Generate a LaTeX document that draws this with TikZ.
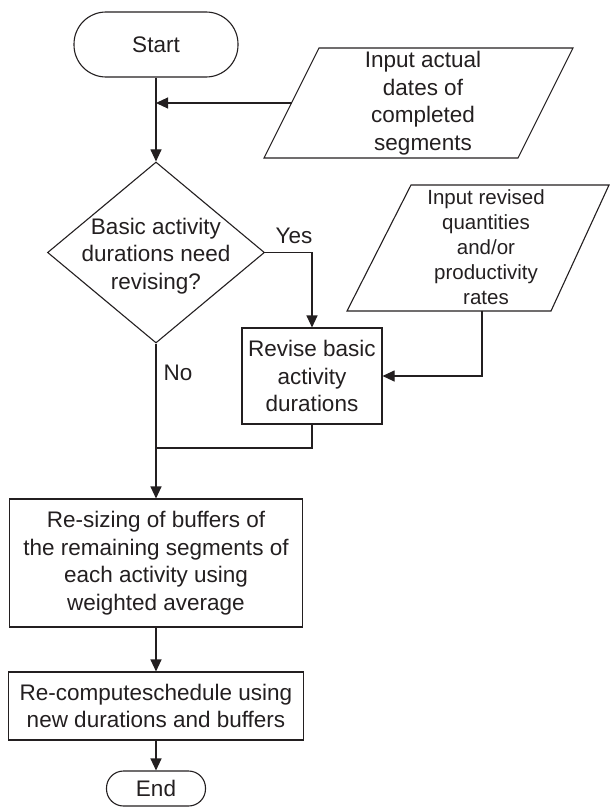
\documentclass[tikz,border=0pt]{standalone}
\usepackage{fontspec}
\setmainfont{Liberation Sans}
\usetikzlibrary{arrows.meta,shapes.geometric,calc}
\definecolor{ink}{HTML}{231F20}
\begin{document}
\begin{tikzpicture}[x=1pt,y=-1pt,
  line/.style={draw=ink,line width=1.1pt},
  arr/.style={line,-{Triangle[length=12pt,width=11pt]}},
  txt/.style={text=ink,align=center,inner sep=0pt,
    font=\fontsize{22.5}{27.5}\selectfont},
  smalltxt/.style={txt,font=\fontsize{20.5}{25}\selectfont},
  terminal/.style={line,rectangle,rounded corners=17pt,inner sep=0pt},
  process/.style={line,rectangle,inner sep=0pt,txt}]
\useasboundingbox (0,0) rectangle (611,808);

% terminals
\node[terminal,minimum width=164pt,minimum height=65pt,rounded corners=32pt,txt] (start) at (156,44.5) {Start};
\node[terminal,minimum width=99pt,minimum height=35pt,txt] (stop) at (156,788.5) {End};

% input of actual dates (parallelogram)
\coordinate (p1a) at (319,48);
\coordinate (p1b) at (573,48);
\coordinate (p1c) at (518,158);
\coordinate (p1d) at (264,158);
\draw[line] (p1a) -- (p1b) -- (p1c) -- (p1d) -- cycle;
\node[txt] (in1) at (423,103) {Input actual\\dates of\\completed\\segments};
\coordinate (in1w) at ($(p1a)!0.5!(p1d)$);

% input of revised quantities (parallelogram)
\coordinate (p2a) at (411,185);
\coordinate (p2b) at (609,185);
\coordinate (p2c) at (551,311);
\coordinate (p2d) at (347,311);
\draw[line] (p2a) -- (p2b) -- (p2c) -- (p2d) -- cycle;
\node[smalltxt] (in2) at (486,247) {Input revised\\quantities\\and/or\\productivity\\rates};
\coordinate (in2s) at (482,311);

% decision
\node[line,diamond,minimum width=217pt,minimum height=181pt,inner sep=0pt] (dec) at (156,252.5) {};
\node[txt] (dectxt) at (156,256) {Basic activity\\durations need\\revising?};

% processes
\node[process,minimum width=140pt,minimum height=96pt] (rev) at (312,376) {Revise basic\\activity\\durations};
\node[process,minimum width=293pt,minimum height=128pt] (res) at (156,563) {Re-sizing of buffers of\\the remaining segments of\\each activity using\\weighted average};
\node[process,minimum width=295pt,minimum height=68pt] (rec) at (156,706) {Re-computeschedule using\\new durations and buffers};

\coordinate (merge) at (156,448);

% connectors
\draw[arr] (start) -- (dec);
\draw[arr] (in1w) -- (in1w -| start.south);
\draw[arr] (dec.east) -| (rev.north);
\node[txt] (yes) at (294,236) {Yes};
\draw[arr] (in2s) |- (rev.east);
\draw[arr] (dec.south) -- (res.north);
\node[txt] (no) at (178,373) {No};
\draw[line] (rev.south) |- (merge);
\draw[arr] (res) -- (rec);
\draw[arr] (rec) -- (stop);
\end{tikzpicture}
\end{document}
